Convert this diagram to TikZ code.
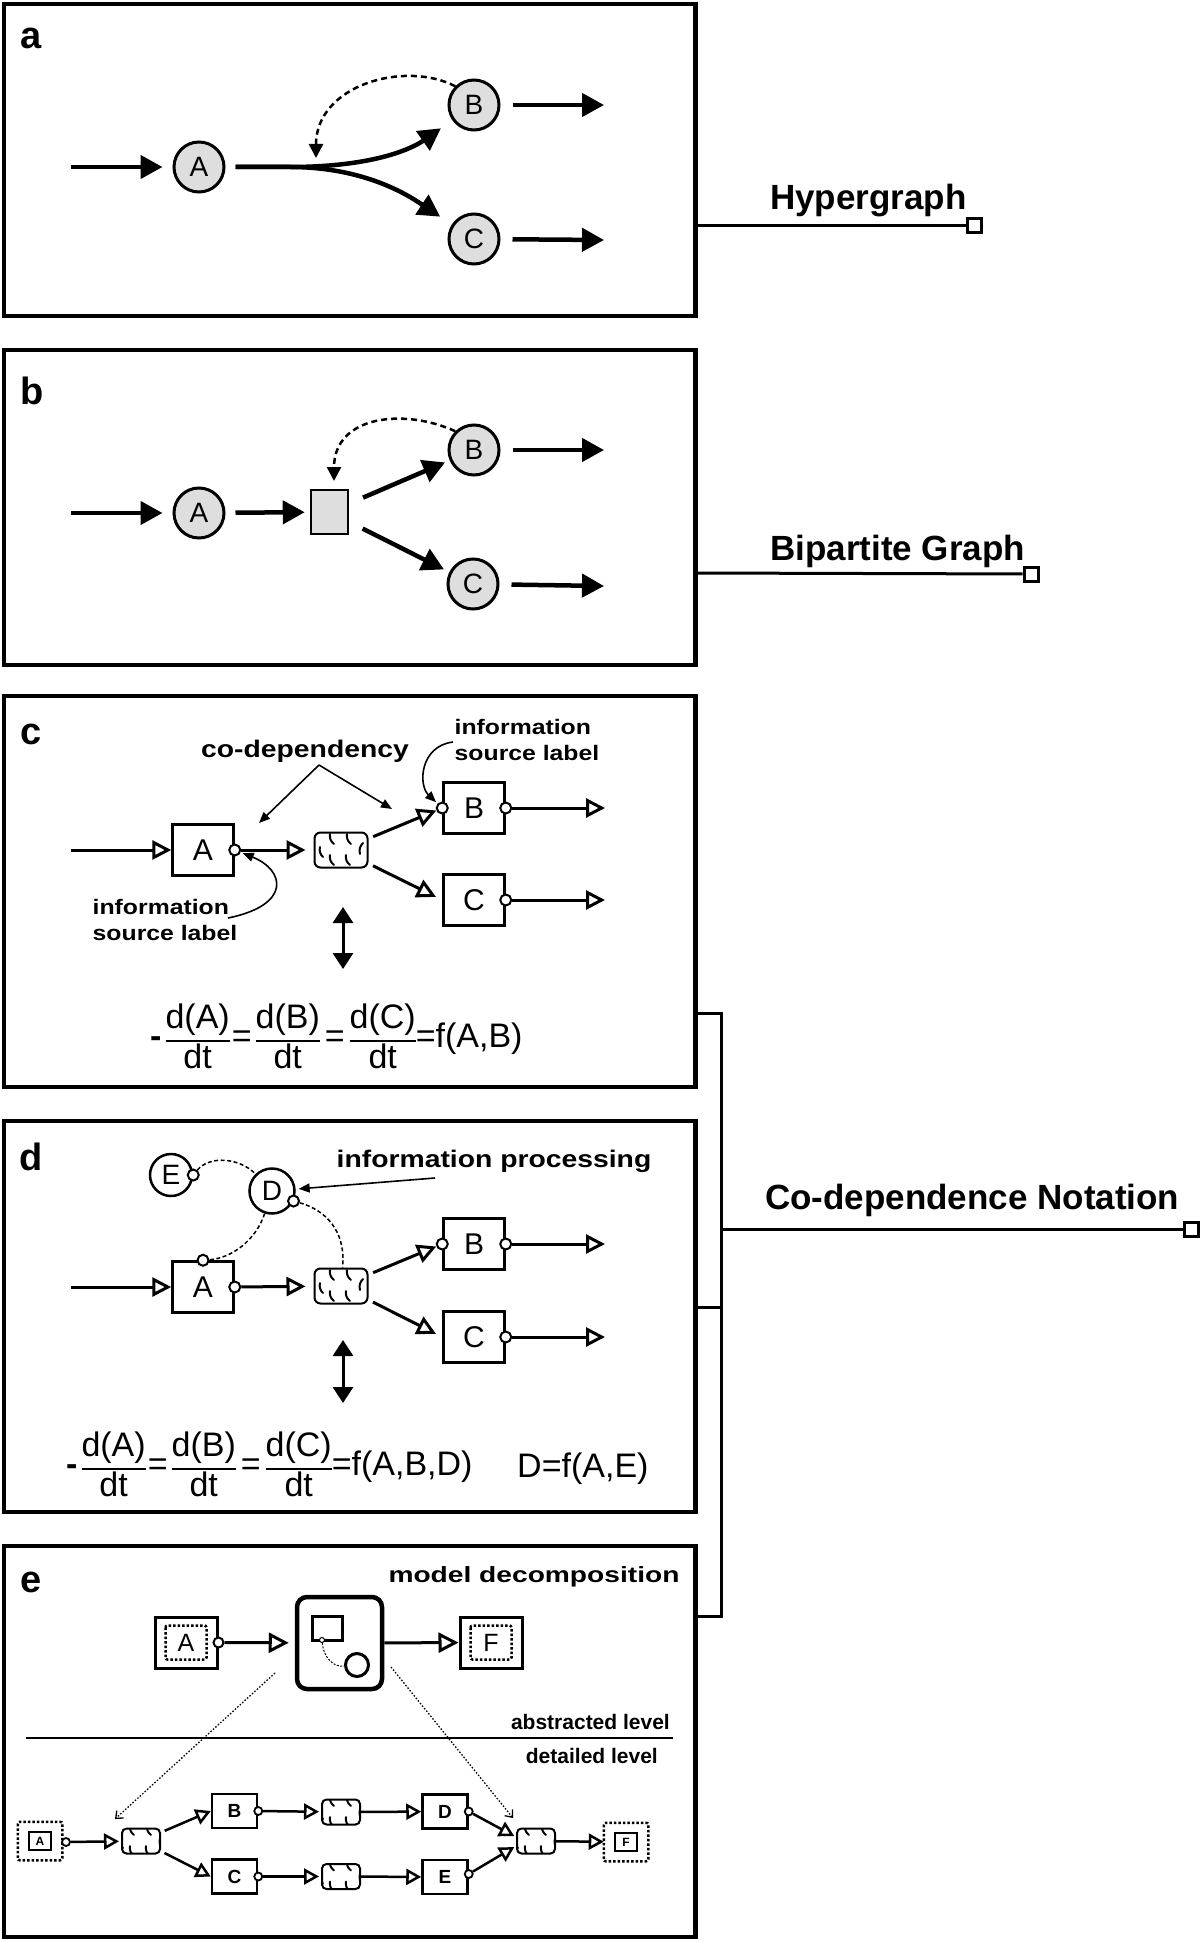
\documentclass[tikz,border=0pt]{standalone}
\usepackage{fontspec}
\setmainfont{Liberation Sans}
\newfontfamily\wfont[FakeStretch=1.18]{Liberation Sans}
\newfontfamily\mfont[FakeStretch=1.28]{Liberation Sans}
\usetikzlibrary{arrows.meta,calc}
\setlength{\arrayrulewidth}{2pt}
\newcommand\frc[2]{\begin{tabular}[c]{@{}c@{}}#1\\\hline #2\end{tabular}}
\newcommand\hypermarks[1]{%
 \begin{scope}[shift={(path picture bounding box.center)}, scale=#1, line width=2pt, line cap=round]
  \draw (-11,-16) to[bend right=30] (-7,-6);
  \draw (6,-16) to[bend right=30] (10,-6);
  \draw (-21,-3) to[bend right=30] (-18,7);
  \draw (-11,5) to[bend right=30] (-7,15);
  \draw (5,5) to[bend right=30] (9,15);
  \draw (22,-7) to[bend right=30] (19,4);
 \end{scope}}
\tikzset{
  panel/.style={draw, line width=4.5pt},
  plabel/.style={font=\bfseries\fontsize{38}{40}\selectfont, inner sep=0pt},
  circA/.style={circle, draw, line width=3pt, fill=black!13, minimum size=50pt, inner sep=0pt, font=\fontsize{28}{30}\selectfont},
  heavy/.style={line width=4.5pt, -{Triangle[length=22pt,width=23pt]}},
  dasharrow/.style={line width=2.5pt, dash pattern=on 6pt off 4pt, -{Triangle[length=14pt,width=14pt]}},
  cbox/.style={draw, line width=2.5pt, minimum width=61pt, minimum height=51pt, inner sep=0pt, fill=white, font=\fontsize{30}{32}\selectfont},
  src/.style={circle, draw, line width=2pt, fill=white, minimum size=11pt, inner sep=0pt},
  openarrow/.style={line width=3pt, -{Triangle[open, length=19pt, width=19pt]}},
  smallopen/.style={line width=2.5pt, -{Triangle[open, length=15pt, width=16pt]}},
  thinarrow/.style={line width=1.6pt, -{Triangle[length=11pt, width=9pt]}},
  dblarrow/.style={line width=3pt, {Triangle[length=16pt,width=20pt]}-{Triangle[length=16pt,width=20pt]}},
  hyper/.style={draw, line width=2pt, fill=white, inner sep=0pt, rounded corners=6pt, minimum width=53pt, minimum height=35pt, path picture={\hypermarks{1}}},
  hypersmall/.style={draw, line width=2pt, fill=white, inner sep=0pt, rounded corners=4.5pt, minimum width=38pt, minimum height=25pt, path picture={\hypermarks{0.7}}},
  ecirc/.style={circle, draw, line width=2.5pt, fill=white, minimum size=42pt, inner sep=0pt, font=\fontsize{28}{30}\selectfont},
  dashline/.style={line width=1.5pt, dash pattern=on 4pt off 2.5pt},
  clab/.style={font=\wfont\bfseries\fontsize{24}{27}\selectfont, inner sep=0pt},
  slab/.style={font=\wfont\bfseries\fontsize{21}{26}\selectfont, inner sep=0pt, align=left},
  mlab/.style={font=\mfont\bfseries\fontsize{22}{26}\selectfont, inner sep=0pt},
  llab/.style={font=\bfseries\fontsize{21}{24}\selectfont, inner sep=0pt},
  rlab/.style={font=\bfseries\fontsize{35}{38}\selectfont, inner sep=0pt},
  eqn/.style={font=\fontsize{34}{38}\selectfont, inner sep=0pt},
  endsq/.style={draw, line width=3pt, fill=white, minimum size=14pt, inner sep=0pt},
  ebox/.style={draw, line width=3pt, minimum width=62pt, minimum height=51pt, inner sep=0pt, fill=white, font=\fontsize{25}{27}\selectfont},
  dotbox/.style={line width=2.5pt, dash pattern=on 2.5pt off 2pt, rounded corners=2pt},
  module/.style={draw, line width=4.5pt, rounded corners=10pt, minimum width=85pt, minimum height=92pt, inner sep=0pt},
  openE/.style={line width=3pt, -{Triangle[open, length=20pt, width=20pt]}},
  dotarrow/.style={line width=1.3pt, dash pattern=on 1.5pt off 1.8pt, -{Straight Barb[length=6pt, width=10pt]}},
  sbox/.style={draw, line width=2.5pt, minimum width=22pt, minimum height=18pt, inner sep=0pt, font=\bfseries\fontsize{12}{14}\selectfont},
  sboxB/.style={draw, line width=2.5pt, minimum width=45pt, minimum height=34pt, inner sep=0pt, fill=white, font=\bfseries\fontsize{19}{21}\selectfont},
}
\begin{document}
\begin{tikzpicture}[x=1pt, y=-1pt]
\useasboundingbox (0,0) rectangle (1200,1942);

% ---------------- panel a ----------------
\draw[panel] (4,4) rectangle (695.5,316);
\node[plabel] (a-lab) at (31,38) {a};
\node[circA] (a-A) at (199,167) {A};
\node[circA] (a-B) at (474,105) {B};
\node[circA] (a-C) at (474,239) {C};
\coordinate (a-in) at (71,167);
\coordinate (a-br) at (290,167);
\coordinate (a-Bout) at (604,105);
\coordinate (a-Cout) at (604,240);
\coordinate (a-dt) at (316,158);
\draw[heavy, shorten >=10pt] (a-in) -- (a-A);
\draw[heavy, shorten <=10pt, shorten >=14pt] (a-A) -- (a-br) .. controls (370,167) and (410,150) .. (a-B);
\draw[heavy, shorten <=10pt, shorten >=14pt] (a-A) -- (a-br) .. controls (370,167) and (415,200) .. (a-C);
\draw[heavy, shorten <=12pt] (a-B) -- (a-Bout);
\draw[heavy, shorten <=12pt] (a-C) -- (a-Cout);
\draw[dasharrow] (a-B.north west) .. controls (405,60) and (316,85) .. (a-dt);

% ---------------- panel b ----------------
\draw[panel] (4,350) rectangle (695.5,665);
\node[plabel] (b-lab) at (32,391) {b};
\node[circA] (b-A) at (199,513) {A};
\node[circA] (b-B) at (474,450) {B};
\node[circA] (b-C) at (473,584) {C};
\node[draw, line width=2.5pt, fill=black!13, minimum width=37pt, minimum height=44pt, inner sep=0pt] (b-R) at (329.5,512) {};
\coordinate (b-in) at (71,513);
\coordinate (b-Bout) at (604,450);
\coordinate (b-Cout) at (604,586);
\coordinate (b-dt) at (334,481);
\draw[heavy, shorten >=10pt] (b-in) -- (b-A);
\draw[heavy, shorten <=10pt, shorten >=5pt] (b-A) -- (b-R);
\draw[heavy, shorten <=15pt, shorten >=5pt] (b-R) -- (b-B);
\draw[heavy, shorten <=15pt, shorten >=6pt] (b-R) -- (b-C);
\draw[heavy, shorten <=12pt] (b-B) -- (b-Bout);
\draw[heavy, shorten <=12pt] (b-C) -- (b-Cout);
\draw[dasharrow] (b-B.north west) .. controls (405,408) and (334,415) .. (b-dt);

% ---------------- panel c ----------------
\draw[panel] (4,696) rectangle (695.5,1087);
\node[plabel] (c-lab) at (31,734) {c};
\node[cbox] (c-A) at (203,850) {A};
\node[src] (c-Ao) at (c-A.east) {};
\node[hyper] (c-H) at (341,850) {};
\node[cbox] (c-B) at (474,808) {B};
\node[src] (c-Bi) at (c-B.west) {};
\node[src] (c-Bo) at (c-B.east) {};
\node[cbox] (c-C) at (474,900) {C};
\node[src] (c-Co) at (c-C.east) {};
\coordinate (c-in) at (71,850);
\coordinate (c-Bout) at (605,808);
\coordinate (c-Cout) at (605,900);
\draw[openarrow] (c-in) -- (c-A);
\draw[openarrow, shorten >=8pt] (c-Ao) -- (c-H);
\draw[openarrow, shorten <=5pt] (c-H) -- (c-Bi);
\draw[openarrow, shorten <=5pt, shorten >=7pt] (c-H) -- (c-C.west);
\draw[openarrow] (c-Bo) -- (c-Bout);
\draw[openarrow] (c-Co) -- (c-Cout);
\node[clab] (c-cod) at (305,751) {co-dependency};
\coordinate (c-cods) at (319,765);
\coordinate (c-cod1) at (259,823);
\coordinate (c-cod2) at (392,809);
\draw[thinarrow] (c-cods) -- (c-cod1);
\draw[thinarrow] (c-cods) -- (c-cod2);
\node[slab] (c-isl1) at (527,740) {information\\source label};
\coordinate (c-isl1s) at (453,742);
\draw[thinarrow, shorten >=2pt] (c-isl1s) .. controls (420,746) and (418,785) .. (c-Bi);
\node[slab] (c-isl2) at (165,920) {information\\source label};
\coordinate (c-isl2s) at (228,918);
\draw[thinarrow, shorten >=2pt] (c-isl2s) .. controls (292,905) and (285,870) .. (c-Ao);
\coordinate (c-d1) at (343,907);
\coordinate (c-d2) at (343,969);
\draw[dblarrow] (c-d1) -- (c-d2);
\node[eqn, anchor=west] (c-eq) at (150,1041) {\textbf{-}\hspace{4pt}\frc{d(A)}{dt}\hspace{2pt}=\hspace{4pt}\frc{d(B)}{dt}\hspace{5pt}=\hspace{5pt}\frc{d(C)}{dt}=f(A,B)};

% ---------------- panel d ----------------
\draw[panel] (4,1121) rectangle (695.5,1512);
\node[plabel] (d-lab) at (31,1157) {d};
\node[ecirc] (d-E) at (171,1175) {E};
\node[src] (d-Eo) at (d-E.east) {};
\node[ecirc, minimum size=45pt] (d-D) at (272,1191) {D};
\node[src] (d-Do) at (d-D.-25) {};
\node[cbox] (d-A) at (203,1287) {A};
\node[src] (d-At) at (d-A.north) {};
\node[src] (d-Ao) at (d-A.east) {};
\node[hyper] (d-H) at (341,1286) {};
\node[cbox] (d-B) at (474,1244) {B};
\node[src] (d-Bi) at (d-B.west) {};
\node[src] (d-Bo) at (d-B.east) {};
\node[cbox] (d-C) at (474,1337) {C};
\node[src] (d-Co) at (d-C.east) {};
\coordinate (d-in) at (71,1287);
\coordinate (d-Bout) at (605,1244);
\coordinate (d-Cout) at (605,1337);
\draw[dashline] (d-Eo) .. controls (210,1155) and (240,1158) .. (d-D);
\draw[dashline] (d-D) .. controls (256,1240) and (232,1258) .. (d-At);
\draw[dashline] (d-Do) .. controls (325,1210) and (346,1230) .. (d-H);
\draw[openarrow] (d-in) -- (d-A);
\draw[openarrow, shorten >=8pt] (d-Ao) -- (d-H);
\draw[openarrow, shorten <=5pt] (d-H) -- (d-Bi);
\draw[openarrow, shorten <=5pt, shorten >=7pt] (d-H) -- (d-C.west);
\draw[openarrow] (d-Bo) -- (d-Bout);
\draw[openarrow] (d-Co) -- (d-Cout);
\node[clab] (d-ip) at (494,1161) {information processing};
\coordinate (d-ips) at (435,1178);
\draw[thinarrow, shorten >=3pt] (d-ips) -- (d-D);
\coordinate (d-d1) at (343,1340);
\coordinate (d-d2) at (343,1403);
\draw[dblarrow] (d-d1) -- (d-d2);
\node[eqn, anchor=west] (d-eq) at (66,1469) {\textbf{-}\hspace{4pt}\frc{d(A)}{dt}\hspace{2pt}=\hspace{4pt}\frc{d(B)}{dt}\hspace{5pt}=\hspace{5pt}\frc{d(C)}{dt}=f(A,B,D)};
\node[eqn, anchor=west] (d-eq2) at (517,1469) {D=f(A,E)};

% ---------------- panel e ----------------
\draw[panel] (4,1546) rectangle (695.5,1937);
\node[plabel] (e-lab) at (31,1582) {e};
\node[mlab] (e-md) at (534,1577) {model decomposition};
\node[ebox] (e-A) at (186,1642.5) {A};
\draw[dotbox] ([xshift=12pt,yshift=-10pt]e-A.north west) rectangle ([xshift=-12pt,yshift=10pt]e-A.south east);
\node[src, minimum size=10pt] (e-Ao) at (e-A.east) {};
\node[module] (e-M) at (339.5,1643) {};
\node[draw, line width=3pt, minimum width=30pt, minimum height=24pt, inner sep=0pt] (e-Ms) at (327,1628) {};
\node[circle, draw, line width=3pt, minimum size=23pt, inner sep=0pt] (e-Mc) at (357,1665) {};
\node[circle, draw, line width=1pt, fill=white, minimum size=5pt, inner sep=0pt] (e-Msp) at (322,1640) {};
\draw[line width=1pt, dash pattern=on 2pt off 1.5pt] (e-Msp) .. controls (324,1660) and (335,1667) .. (e-Mc);
\node[ebox] (e-F) at (491,1642.5) {F};
\draw[dotbox] ([xshift=12pt,yshift=-10pt]e-F.north west) rectangle ([xshift=-12pt,yshift=10pt]e-F.south east);
\draw[openE, shorten >=6pt] (e-Ao) -- (e-M);
\draw[openE] (e-M) -- (e-F);
\coordinate (e-d1s) at (275,1673);
\coordinate (e-d1e) at (115,1819);
\coordinate (e-d2s) at (391,1667);
\coordinate (e-d2e) at (513,1818);
\draw[dotarrow] (e-d1s) -- (e-d1e);
\draw[dotarrow] (e-d2s) -- (e-d2e);
\coordinate (e-l1) at (26,1738);
\coordinate (e-l2) at (673,1738);
\draw[line width=2pt] (e-l1) -- (e-l2);
\node[llab, anchor=east] (e-abs) at (670,1722) {abstracted level};
\node[llab, anchor=east] (e-det) at (658,1756) {detailed level};
% detailed level
\node[sbox] (e-sA) at (40,1841) {A};
\draw[dotbox] ([xshift=-10pt,yshift=9pt]e-sA.north west) rectangle ([xshift=10pt,yshift=-9pt]e-sA.south east);
\node[src, minimum size=8pt, line width=1.8pt] (e-sAo) at (66,1842) {};
\node[hypersmall] (e-H1) at (141,1841) {};
\node[sboxB] (e-B) at (234.5,1811) {B};
\node[src, minimum size=8pt, line width=1.8pt] (e-Bo) at (e-B.east) {};
\node[hypersmall] (e-H2) at (341,1812) {};
\node[sboxB] (e-D) at (445,1811.5) {D};
\node[src, minimum size=8pt, line width=1.8pt] (e-Do) at (e-D.east) {};
\node[sboxB] (e-C) at (234.5,1876.5) {C};
\node[src, minimum size=8pt, line width=1.8pt] (e-Co) at (e-C.east) {};
\node[hypersmall] (e-H3) at (341,1876.5) {};
\node[sboxB] (e-E) at (445,1877) {E};
\node[src, minimum size=8pt, line width=1.8pt] (e-Eo) at ([yshift=3pt]e-E.east) {};
\node[hypersmall] (e-H4) at (536,1841) {};
\node[sbox] (e-sF) at (626,1842) {F};
\draw[dotbox] ([xshift=-10pt,yshift=9pt]e-sF.north west) rectangle ([xshift=10pt,yshift=-9pt]e-sF.south east);
\draw[smallopen, shorten >=2pt] (e-sAo) -- (e-H1);
\draw[smallopen, shorten <=4pt] (e-H1) -- (e-B.west);
\draw[smallopen, shorten <=4pt] (e-H1) -- (e-C.west);
\draw[smallopen, shorten >=2pt] (e-Bo) -- (e-H2);
\draw[smallopen] (e-H2) -- (e-D);
\draw[smallopen, shorten >=2pt] (e-Co) -- (e-H3);
\draw[smallopen] (e-H3) -- (e-E);
\draw[smallopen, shorten >=2pt] (e-Do) -- ([yshift=4pt]e-H4.west);
\draw[smallopen, shorten >=2pt] (e-Eo) -- ([yshift=-5pt]e-H4.west);
\draw[smallopen, shorten >=10pt] (e-H4) -- (e-sF);

% ---------------- right-hand labels ----------------
\node[rlab, anchor=base west] (r-hyp) at (770,210) {Hypergraph};
\coordinate (r-a) at (697,226);
\node[endsq] (r-asq) at (974,226) {};
\draw[line width=3pt] (r-a) -- (r-asq);
\node[rlab, anchor=base west] (r-bip) at (770,560) {Bipartite Graph};
\coordinate (r-b) at (697,573);
\node[endsq] (r-bsq) at (1031,574) {};
\draw[line width=3pt] (r-b) -- (r-bsq);
\coordinate (r-c1) at (697,1013);
\coordinate (r-c2) at (721,1013);
\coordinate (r-c3) at (721,1616);
\coordinate (r-c4) at (697,1616);
\coordinate (r-d1) at (697,1307);
\coordinate (r-d2) at (721,1307);
\coordinate (r-cm) at (721,1229);
\draw[line width=3pt] (r-c1) -- (r-c2) -- (r-c3) -- (r-c4);
\draw[line width=3pt] (r-d1) -- (r-d2);
\node[rlab, anchor=base west] (r-cod) at (765,1209) {Co-dependence Notation};
\node[endsq] (r-csq) at (1191,1229) {};
\draw[line width=3pt] (r-cm) -- (r-csq);
\end{tikzpicture}
\end{document}
